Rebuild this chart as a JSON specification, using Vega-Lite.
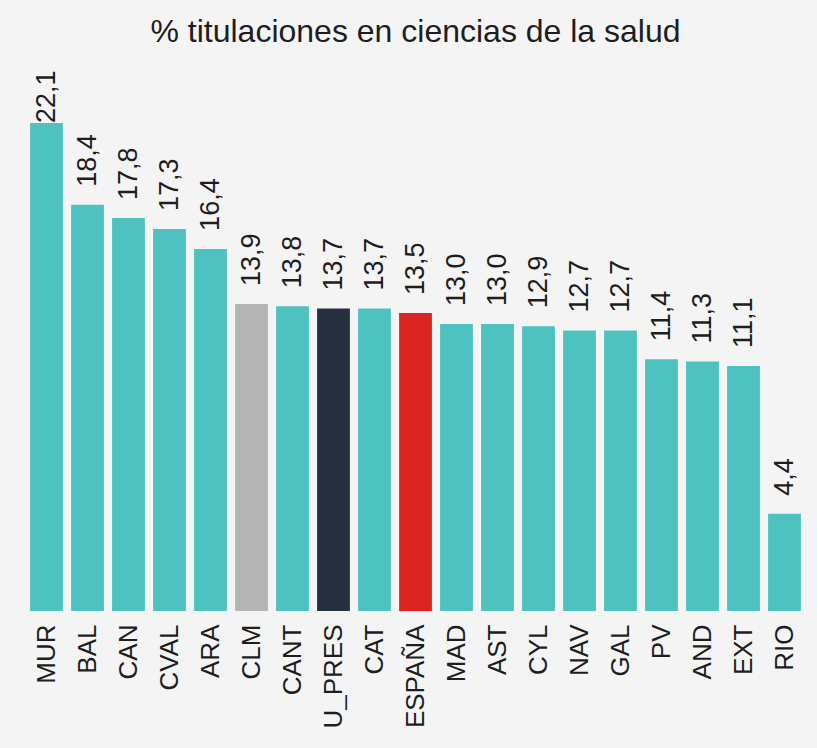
{
  "$schema": "https://vega.github.io/schema/vega-lite/v6.json",
  "width": 779,
  "height": 552,
  "autosize": {"type": "none"},
  "padding": {"left": 26, "top": 59, "right": 12, "bottom": 137},
  "background": "#f4f4f4",
  "config": {
    "view": {"stroke": null},
    "font": "Liberation Sans",
    "locale": {
      "number": {"decimal": ",", "thousands": ".", "grouping": [3], "currency": ["", " €"]}
    }
  },
  "title": {
    "text": "% titulaciones en ciencias de la salud",
    "fontSize": 32,
    "fontWeight": "normal",
    "color": "#1e1e1e",
    "anchor": "middle",
    "frame": "group",
    "offset": 10
  },
  "data": {
    "values": [
      {"region": "MUR", "valor": 22.1, "grupo": "comunidad"},
      {"region": "BAL", "valor": 18.4, "grupo": "comunidad"},
      {"region": "CAN", "valor": 17.8, "grupo": "comunidad"},
      {"region": "CVAL", "valor": 17.3, "grupo": "comunidad"},
      {"region": "ARA", "valor": 16.4, "grupo": "comunidad"},
      {"region": "CLM", "valor": 13.9, "grupo": "CLM"},
      {"region": "CANT", "valor": 13.8, "grupo": "comunidad"},
      {"region": "U_PRES", "valor": 13.7, "grupo": "U_PRES"},
      {"region": "CAT", "valor": 13.7, "grupo": "comunidad"},
      {"region": "ESPAÑA", "valor": 13.5, "grupo": "ESPAÑA"},
      {"region": "MAD", "valor": 13.0, "grupo": "comunidad"},
      {"region": "AST", "valor": 13.0, "grupo": "comunidad"},
      {"region": "CYL", "valor": 12.9, "grupo": "comunidad"},
      {"region": "NAV", "valor": 12.7, "grupo": "comunidad"},
      {"region": "GAL", "valor": 12.7, "grupo": "comunidad"},
      {"region": "PV", "valor": 11.4, "grupo": "comunidad"},
      {"region": "AND", "valor": 11.3, "grupo": "comunidad"},
      {"region": "EXT", "valor": 11.1, "grupo": "comunidad"},
      {"region": "RIO", "valor": 4.4, "grupo": "comunidad"}
    ]
  },
  "encoding": {
    "x": {
      "field": "region",
      "type": "nominal",
      "sort": null,
      "scale": {"paddingInner": 0.2, "paddingOuter": 0.1},
      "axis": {
        "title": null,
        "labelAngle": -90,
        "labelAlign": "right",
        "labelBaseline": "middle",
        "labelFontSize": 26,
        "labelColor": "#1e1e1e",
        "labelPadding": 13,
        "ticks": false,
        "domain": false
      }
    },
    "y": {
      "field": "valor",
      "type": "quantitative",
      "scale": {"domain": [0, 25]},
      "axis": null
    }
  },
  "layer": [
    {
      "mark": {"type": "bar"},
      "encoding": {
        "color": {
          "field": "grupo",
          "type": "nominal",
          "scale": {
            "domain": ["comunidad", "CLM", "U_PRES", "ESPAÑA"],
            "range": ["#4ec2bf", "#b4b4b4", "#262f3e", "#dc2323"]
          },
          "legend": null
        }
      }
    },
    {
      "transform": [{"filter": "datum.region !== 'MUR'"}],
      "mark": {
        "type": "text",
        "angle": -90,
        "align": "left",
        "baseline": "middle",
        "dx": 18,
        "fontSize": 27,
        "color": "#1e1e1e"
      },
      "encoding": {
        "text": {"field": "valor", "type": "quantitative", "format": ".1f"}
      }
    },
    {
      "transform": [{"filter": "datum.region === 'MUR'"}],
      "mark": {
        "type": "text",
        "angle": -90,
        "align": "left",
        "baseline": "middle",
        "dx": 0,
        "fontSize": 27,
        "color": "#1e1e1e"
      },
      "encoding": {
        "text": {"field": "valor", "type": "quantitative", "format": ".1f"}
      }
    }
  ]
}
